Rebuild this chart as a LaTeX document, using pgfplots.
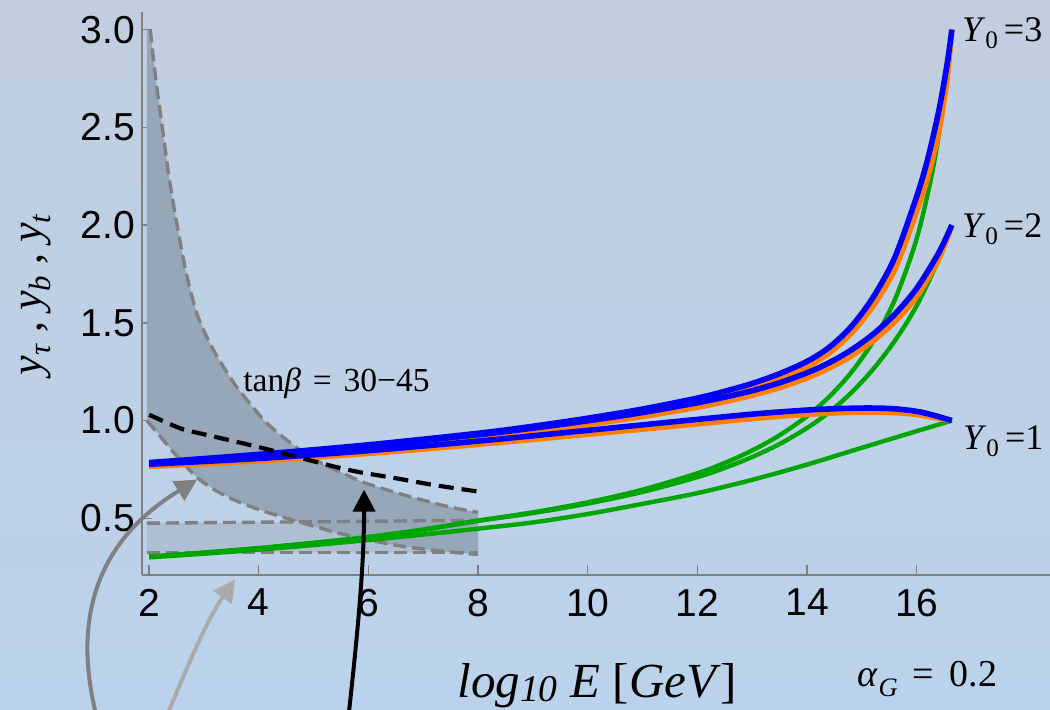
\documentclass[border=0pt]{standalone}
\usepackage{graphicx}
\usepackage{pgfplots}
\pgfplotsset{compat=1.18}
\usepackage{pgfplotstable}
\usetikzlibrary{arrows.meta}
\usepackage{fontspec}
\setmainfont{Liberation Serif}
\newfontfamily\sansfont{Liberation Sans}

% lowered, reduced subscript for text-mode labels
\newcommand{\sub}[2][0.45ex]{\raisebox{-#1}{\scalebox{0.7}{#2}}}
\newcommand{\tickfont}{\sansfont\fontsize{19.5}{22}\selectfont}

\definecolor{bgtop}{RGB}{193,206,223}
\definecolor{bgbot}{RGB}{187,210,236}
\definecolor{bandup}{RGB}{151,167,186}
\definecolor{bandlo}{RGB}{174,191,212}
\definecolor{dashgray}{RGB}{128,128,128}
\definecolor{axgray}{RGB}{128,128,128}
\definecolor{lgray}{RGB}{170,170,170}
\definecolor{mblue}{RGB}{0,0,255}
\definecolor{morange}{RGB}{255,128,0}
\definecolor{mgreen}{RGB}{0,166,0}

% tan(beta) = 30-45 band: upper and lower edges
\pgfplotstableread{
x y
2.02 3.00
2.12 2.75
2.24 2.50
2.36 2.25
2.51 2.00
2.68 1.75
2.88 1.54
3.10 1.40
3.30 1.30
3.55 1.19
3.80 1.10
4.10 1.00
4.40 0.925
4.75 0.85
5.12 0.785
5.50 0.735
5.90 0.685
6.40 0.64
6.90 0.60
7.45 0.56
8.00 0.53
}\bandtop
\pgfplotstableread{
x y
1.96 1.00
2.20 0.92
2.50 0.82
2.87 0.71
3.20 0.645
3.54 0.595
4.00 0.545
4.45 0.505
5.00 0.46
5.40 0.428
6.00 0.39
6.60 0.358
7.30 0.333
8.00 0.315
}\bandbot
% second band
\pgfplotstableread{
x y
1.96 0.475
8.00 0.490
}\lotop
\pgfplotstableread{
x y
1.96 0.325
8.00 0.325
}\lobot
% black dashed curve
\pgfplotstableread{
x y
2.00 1.03
2.57 0.96
3.00 0.93
3.66 0.887
4.20 0.85
4.75 0.81
5.30 0.77
5.80 0.738
6.50 0.705
7.20 0.67
8.00 0.637
}\blk

% Yukawa couplings, Y0 = 3
\pgfplotstableread{
x y
2 0.785
4 0.827
6 0.876
8 0.935
9 0.971
10 1.012
11 1.059
12 1.115
12.5 1.150
13 1.190
13.5 1.240
14 1.303
14.4 1.374
14.8 1.479
15.2 1.629
15.6 1.835
16.0 2.148
16.2 2.338
16.4 2.582
16.55 2.817
16.64 3.0
}\bthree
\pgfplotstableread{
x y
2 0.773
4 0.8135
6 0.861
8 0.918
9 0.953
10 0.9926
11 1.038
12 1.091
12.5 1.126
13 1.166
13.5 1.2145
14 1.276
14.4 1.345
14.8 1.4455
15.2 1.585
15.6 1.774
16.0 2.072
16.2 2.247
16.4 2.477
16.55 2.742
16.64 3.0
}\othree
\pgfplotstableread{
x y
2 0.305
3 0.325
4 0.348
5 0.375
6 0.405
7 0.443
8 0.4883
9 0.5305
10 0.5819
11 0.6464
12 0.7306
12.5 0.7836
13 0.8472
13.5 0.9251
14 1.0228
14.4 1.1209
14.8 1.2443
15.2 1.4032
15.6 1.618
16.0 1.932
16.3 2.295
16.5 2.655
16.64 3.0
}\gthree
% Y0 = 2
\pgfplotstableread{
x y
2 0.780
4 0.8213
6 0.8696
8 0.9275
9 0.961
10 0.9988
11 1.041
12 1.091
12.5 1.120
13 1.153
13.5 1.1935
14 1.2446
14.4 1.2957
14.8 1.360
15.2 1.441
15.6 1.544
16.0 1.677
16.4 1.858
16.64 2.0
}\btwo
\pgfplotstableread{
x y
2 0.7687
4 0.8083
6 0.8551
8 0.9112
9 0.9439
10 0.9799
11 1.0209
12 1.0681
12.5 1.0967
13 1.1294
13.5 1.1688
14 1.2184
14.4 1.2684
14.8 1.3294
15.2 1.4078
15.6 1.5065
16.0 1.636
16.4 1.827
16.64 2.0
}\otwo
\pgfplotstableread{
x y
2 0.303
3 0.323
4 0.346
5 0.373
6 0.403
7 0.441
8 0.4868
9 0.527
10 0.5754
11 0.635
12 0.7106
12.5 0.758
13 0.8138
13.5 0.8803
14 0.962
14.4 1.0423
14.8 1.1408
15.2 1.2615
15.6 1.408
16.0 1.588
16.4 1.8245
16.64 2.0
}\gtwo
% Y0 = 1
\pgfplotstableread{
x y
2 0.777
4 0.806
6 0.846
8 0.895
10 0.950
11 0.978
12 1.006
13 1.033
13.6 1.046
14.2 1.057
14.8 1.063
15.2 1.064
15.6 1.060
16.0 1.047
16.3 1.028
16.64 1.0
}\bone
\pgfplotstableread{
x y
2 0.766
4 0.794
6 0.832
8 0.878
10 0.930
11 0.956
12 0.983
13 1.010
13.6 1.024
14.2 1.035
14.8 1.042
15.2 1.044
15.6 1.041
16.0 1.031
16.3 1.017
16.64 1.0
}\oone
\pgfplotstableread{
x y
2 0.300
3 0.319
4 0.340
5 0.363
6 0.389
7 0.417
8 0.447
9 0.479
10 0.522
11 0.574
12 0.629
13 0.697
14 0.775
15 0.861
16 0.946
16.64 1.0
}\gone

\begin{document}
\begin{tikzpicture}
\shade[top color=bgtop, bottom color=bgbot] (0,0) rectangle (525pt,354.5pt);
\begin{axis}[
  at={(71pt,67pt)}, anchor=south west,
  scale only axis, width=454pt, height=281.5pt,
  xmin=1.87, xmax=18.43, ymin=0.21, ymax=3.09,
  axis lines*=left,
  axis line style={draw=axgray, line width=0.8pt},
  xtick={2,4,...,16}, ytick={0.5,1.0,...,3.0},
  tick align=inside, major tick length=5pt,
  tick style={draw=axgray, line width=0.7pt},
  ticklabel style={font=\tickfont},
  xticklabel style={yshift=-3.5pt},
  yticklabel style={/pgf/number format/.cd, fixed, fixed zerofill, precision=1},
  /pgf/number format/assume math mode=true,
  clip=false,
  every axis plot/.append style={line join=round},
]
% shaded regions
\addplot[fill=bandlo, draw=none] coordinates {(1.96,0.475) (8.00,0.490) (8.00,0.325) (1.96,0.325)} -- cycle;
\addplot[fill=bandup, draw=none] coordinates {
 (1.96,3.00) (2.02,3.00) (2.12,2.75) (2.24,2.50) (2.36,2.25) (2.51,2.00) (2.68,1.75)
 (2.88,1.54) (3.10,1.40) (3.30,1.30) (3.55,1.19) (3.80,1.10) (4.10,1.00) (4.40,0.925)
 (4.75,0.85) (5.12,0.785) (5.50,0.735) (5.90,0.685) (6.40,0.64) (6.90,0.60) (7.45,0.56)
 (8.00,0.53) (8.00,0.315) (7.30,0.333) (6.60,0.358) (6.00,0.39) (5.40,0.428) (5.00,0.46)
 (4.45,0.505) (4.00,0.545) (3.54,0.595) (3.20,0.645) (2.87,0.71) (2.50,0.82) (2.20,0.92)
 (1.96,1.00)} -- cycle;
% dashed edges
\addplot[dashgray, line width=1.7pt, dash pattern=on 6.5pt off 3pt, smooth] table {\bandtop};
\addplot[dashgray, line width=1.7pt, dash pattern=on 6.5pt off 3pt, smooth] table {\bandbot};
\addplot[dashgray, line width=1.7pt, dash pattern=on 6.5pt off 3pt] table {\lotop};
\addplot[dashgray, line width=1.7pt, dash pattern=on 6.5pt off 3pt] table {\lobot};
% running couplings
\addplot[mgreen, line width=2.2pt, smooth] table {\gone};
\addplot[mgreen, line width=2.2pt, smooth] table {\gtwo};
\addplot[mgreen, line width=2.2pt, smooth] table {\gthree};
\addplot[morange, line width=2.8pt, smooth] table {\oone};
\addplot[morange, line width=2.8pt, smooth] table {\otwo};
\addplot[morange, line width=2.8pt, smooth] table {\othree};
\addplot[mblue, line width=2.8pt, smooth] table {\bone};
\addplot[mblue, line width=2.8pt, smooth] table {\btwo};
\addplot[mblue, line width=2.8pt, smooth] table {\bthree};
% black dashed curve
\addplot[black, line width=2.1pt, dash pattern=on 7.5pt off 4pt, smooth] table {\blk};

% labels
\node[anchor=base west, inner sep=0pt, font=\fontsize{18}{20}\selectfont] at (axis cs:16.82,2.939) {\textit{Y}\sub[0.42ex]{0}\,=3};
\node[anchor=base west, inner sep=0pt, font=\fontsize{18}{20}\selectfont] at (axis cs:16.82,1.936) {\textit{Y}\sub[0.42ex]{0}\,=2};
\node[anchor=base west, inner sep=0pt, font=\fontsize{18}{20}\selectfont] at (axis cs:16.84,0.852) {\textit{Y}\sub[0.42ex]{0}\,=1};
\node[anchor=base west, inner sep=0pt, font=\fontsize{16.8}{20}\selectfont] at (axis cs:3.71,1.148) {tan\textit{β}\hspace{0.35em}=\hspace{0.35em}30−45};
\node[anchor=base west, inner sep=0pt, font=\fontsize{24.5}{28}\selectfont] at (axis cs:7.615,-0.417) {\textit{log}\raisebox{-2pt}{\scalebox{0.77}{\textit{10}}}\hspace{6.5pt}\textit{E}\hspace{6pt}[\textit{GeV}]};
\node[anchor=base west, inner sep=0pt, font=\fontsize{19}{22}\selectfont] at (axis cs:14.92,-0.36) {\textit{α}\sub[0.55ex]{\textit{G}}\hspace{0.4em}=\hspace{0.4em}0.2};
\node[rotate=90, font=\fontsize{22}{26}\selectfont] at (axis cs:-0.06,1.644) {\textit{y}\sub{\textit{τ}}\hspace{0.25em},\hspace{0.25em}\textit{y}\sub{\textit{b}}\hspace{0.25em},\hspace{0.25em}\textit{y}\sub{\textit{t}}};

% arrow anchors
\coordinate (a0) at (axis cs:1.107,-0.581);
\coordinate (a1) at (axis cs:0.414,0.084);
\coordinate (a2) at (axis cs:1.380,0.442);
\coordinate (a3) at (axis cs:2.875,0.698);
\coordinate (b0) at (axis cs:2.219,-0.581);
\coordinate (b1) at (axis cs:2.565,-0.345);
\coordinate (b2) at (axis cs:3.039,-0.023);
\coordinate (b3) at (axis cs:3.568,0.187);
\coordinate (c0) at (axis cs:5.61,-0.581);
\coordinate (c1) at (axis cs:5.79,-0.12);
\coordinate (c2) at (axis cs:5.92,0.238);
\coordinate (c3) at (axis cs:5.92,0.647);
\end{axis}
\begin{scope}
\clip (0,0) rectangle (525pt,354.5pt);
\draw[dashgray, line width=2pt, -{Triangle[length=11pt,width=11pt]}] (a0) .. controls (a1) and (a2) .. (a3);
\draw[lgray, line width=2pt, -{Triangle[length=11pt,width=11pt]}] (b0) .. controls (b1) and (b2) .. (b3);
\draw[black, line width=2pt, -{Triangle[length=11pt,width=11pt]}] (c0) .. controls (c1) and (c2) .. (c3);
\end{scope}
\pgfresetboundingbox
\path[use as bounding box] (0,0) rectangle (525pt,354.5pt);
\end{tikzpicture}
\end{document}
